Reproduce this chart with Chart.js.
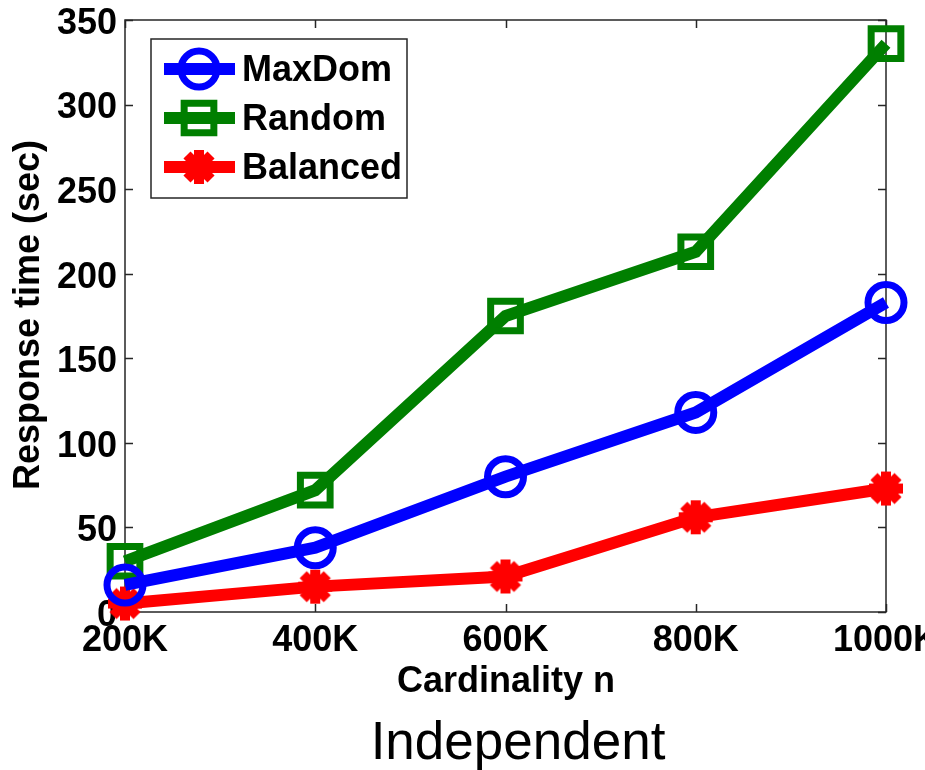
<!DOCTYPE html>
<html>
<head>
<meta charset="utf-8">
<script src="https://cdn.jsdelivr.net/npm/chart.js@4/dist/chart.umd.min.js"></script>
<style>
  html, body { margin: 0; padding: 0; background: #fff; }
  #wrap { width: 925px; height: 770px; position: relative; }
</style>
</head>
<body>
<div id="wrap"><canvas id="chart" width="925" height="770"></canvas></div>
<script>
// Data
const categories = ['200K', '400K', '600K', '800K', '1000K'];
const maxDom = [16, 38, 80, 118, 183];
const random = [30, 72, 175, 213, 336];
const balanced = [5, 15, 21, 56, 73];
const yTicks = [0, 50, 100, 150, 200, 250, 300, 350];

const FONT = "'Liberation Sans', Arial, sans-serif";

// asterisk marker like MATLAB's '*' drawn with a thick pen
function makeStar(r, w, color) {
  const s = Math.ceil(2 * r + w + 2);
  const c = document.createElement('canvas');
  c.width = s; c.height = s;
  const g = c.getContext('2d');
  g.strokeStyle = color;
  g.lineWidth = w;
  g.lineCap = 'butt';
  g.translate(s / 2, s / 2);
  for (let k = 0; k < 4; k++) {
    const t = k * Math.PI / 4;
    g.beginPath();
    g.moveTo(-r * Math.cos(t), -r * Math.sin(t));
    g.lineTo(r * Math.cos(t), r * Math.sin(t));
    g.stroke();
  }
  return c;
}
const starImg = makeStar(17, 10, '#ff0000');

// Frame, inward ticks, tick labels and axis titles (MATLAB style)
const axesPlugin = {
  id: 'matlabAxes',
  beforeDatasetsDraw(chart) {
    const { ctx, chartArea: a, scales } = chart;
    const x = scales.x, y = scales.y;
    const tl = 8;
    ctx.save();
    ctx.strokeStyle = '#262626';
    ctx.lineWidth = 1.5;
    ctx.strokeRect(a.left, a.top, a.right - a.left, a.bottom - a.top);

    ctx.beginPath();
    yTicks.forEach(v => {
      const py = Math.round(y.getPixelForValue(v)) + 0.5;
      ctx.moveTo(a.left, py); ctx.lineTo(a.left + tl, py);
      ctx.moveTo(a.right, py); ctx.lineTo(a.right - tl, py);
    });
    categories.forEach((c, i) => {
      const px = Math.round(x.getPixelForValue(i)) + 0.5;
      ctx.moveTo(px, a.bottom); ctx.lineTo(px, a.bottom - tl);
      ctx.moveTo(px, a.top); ctx.lineTo(px, a.top + tl);
    });
    ctx.stroke();

    ctx.fillStyle = '#000';
    ctx.font = 'bold 36px ' + FONT;
    ctx.textAlign = 'right';
    ctx.textBaseline = 'middle';
    yTicks.forEach(v => {
      ctx.fillText(String(v), a.left - 8, y.getPixelForValue(v) + 4);
    });
    ctx.textAlign = 'center';
    categories.forEach((c, i) => {
      ctx.fillText(c, x.getPixelForValue(i), 641);
    });

    ctx.font = 'bold 36px ' + FONT;
    ctx.fillText('Cardinality n', 506, 682);
    ctx.save();
    ctx.translate(29, 315);
    ctx.rotate(-Math.PI / 2);
    ctx.fillText('Response time (sec)', 0, 0);
    ctx.restore();

    ctx.font = '53px ' + FONT;
    ctx.fillText('Independent', 518, 744);
    ctx.restore();
  },
  afterDraw(chart) {
    const { ctx } = chart;
    ctx.save();
    ctx.fillStyle = '#fff';
    ctx.fillRect(151, 39, 256, 159);
    ctx.strokeStyle = '#262626';
    ctx.lineWidth = 1.5;
    ctx.strokeRect(151, 39, 256, 159);
    const rows = [69, 118, 167];
    chart.data.datasets.forEach((ds, i) => {
      const ly = rows[i];
      ctx.strokeStyle = ds.borderColor;
      ctx.fillStyle = ds.pointBackgroundColor;
      ctx.lineWidth = ds.borderWidth;
      ctx.beginPath();
      ctx.moveTo(164, ly); ctx.lineTo(235, ly);
      ctx.stroke();
      ctx.lineWidth = ds.pointBorderWidth;
      Chart.helpers.drawPoint(ctx, {
        pointStyle: ds.pointStyle, radius: ds.pointRadius,
        rotation: 0, borderWidth: ds.pointBorderWidth
      }, 199, ly);
      ctx.fillStyle = '#000';
      ctx.font = 'bold 36px ' + FONT;
      ctx.textAlign = 'left';
      ctx.textBaseline = 'middle';
      ctx.fillText(ds.label, 242, ly + 2);
    });
    ctx.restore();
  }
};

function series(label, data, color, style, radius, pbw, fill) {
  return {
    label, data,
    borderColor: color,
    backgroundColor: color,
    borderWidth: 12,
    pointStyle: style,
    pointRadius: radius,
    pointHoverRadius: radius,
    pointBorderWidth: pbw,
    pointBorderColor: color,
    pointBackgroundColor: fill,
    tension: 0,
    clip: false
  };
}

new Chart(document.getElementById('chart'), {
  type: 'line',
  data: {
    labels: categories,
    datasets: [
      series('MaxDom', maxDom, '#0000ff', 'circle', 18, 7, 'rgba(0,0,0,0)'),
      series('Random', random, '#007f00', 'rect', 21, 7, 'rgba(0,0,0,0)'),
      series('Balanced', balanced, '#ff0000', starImg, 17, 10, '#ff0000')
    ]
  },
  options: {
    responsive: false,
    animation: false,
    events: [],
    layout: { autoPadding: false, padding: { left: 125, top: 20, right: 39, bottom: 158 } },
    plugins: { legend: { display: false }, tooltip: { enabled: false } },
    scales: {
      x: { type: 'category', display: false, offset: false },
      y: { type: 'linear', display: false, min: 0, max: 350 }
    }
  },
  plugins: [axesPlugin]
});
</script>
</body>
</html>
